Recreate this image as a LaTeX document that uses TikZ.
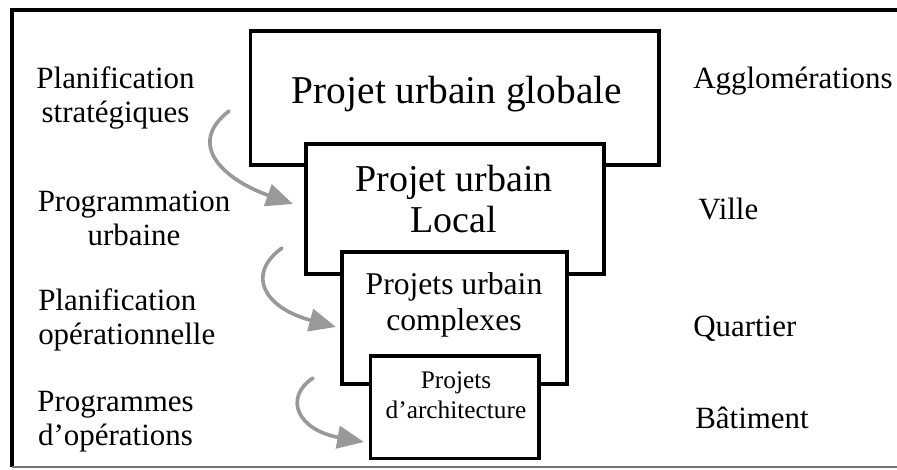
\documentclass[tikz,border=0pt]{standalone}
\usepackage{fontspec}
\setmainfont{Liberation Serif}
\usetikzlibrary{arrows.meta}
\tikzset{box/.style={draw, fill=white, line width=2.8pt, inner sep=0pt}}
\tikzset{boxtext/.style={inner sep=0pt, align=center, anchor=base}}
\tikzset{lbl/.style={font=\fontsize{22pt}{23.8pt}\selectfont, inner sep=0pt}}
\tikzset{flow/.style={black!40, line width=2.6pt, line cap=round, -{Triangle[length=19pt,width=16pt]}}}

\begin{document}
\begin{tikzpicture}[x=0.025cm, y=-0.025cm]
    \useasboundingbox (0,0) rectangle (897,469);
    %Frame
    \draw[line width=2.8pt] (12,467) -- (12,10) -- (897,10);
    \draw[black!55, line width=1.4pt] (12,467) -- (897,467);
    %Boxes
    \node[box, minimum width=10.21cm, minimum height=3.35cm] (glob) at (454.75,98) {};
    \node[boxtext, font=\fontsize{28pt}{30pt}\selectfont] (tglob) at (457,103) {Projet urbain globale};
    \node[box, minimum width=7.45cm, minimum height=3.25cm] (loc) at (455,209) {};
    \node[boxtext, font=\fontsize{27pt}{28.5pt}\selectfont] (tloc) at (454,232) {Projet urbain\\Local};
    \node[box, minimum width=5.625cm, minimum height=3.3cm] (cplx) at (454.5,318) {};
    \node[boxtext, font=\fontsize{22.5pt}{25pt}\selectfont] (tcplx) at (454,330) {Projets urbain\\complexes};
    \node[box, minimum width=4.21cm, minimum height=2.5625cm] (arch) at (454.75,407.25) {};
    \node[boxtext, font=\fontsize{18pt}{21.3pt}\selectfont] (tarch) at (456,418) {Projets\\d’architecture};
    %Left labels
    \node[lbl, align=center, anchor=base] (strat) at (115.5,122) {Planification\\stratégiques};
    \node[lbl, align=center, anchor=base] (progu) at (134,245) {Programmation\\urbaine};
    \node[lbl, align=left, anchor=base west] (plop) at (38,344) {Planification\\opérationnelle};
    \node[lbl, align=center, anchor=base] (progo) at (115.5,445) {Programmes\\d’opérations};
    %Right labels
    \node[lbl, anchor=base west] (aggl) at (693,88) {Agglomérations};
    \node[lbl, anchor=base west] (ville) at (698,219) {Ville};
    \node[lbl, anchor=base west] (quart) at (693,336) {Quartier};
    \node[lbl, anchor=base west] (bat) at (695,428) {Bâtiment};
    %Arrows
    \coordinate (s1) at (229,111);
    \coordinate (e1) at (293,204);
    \coordinate (s2) at (282,248);
    \coordinate (e2) at (336,327);
    \coordinate (s3) at (313,378);
    \coordinate (e3) at (364,442);
    \draw[flow] (s1) .. controls (185,145) and (225,180) .. (e1);
    \draw[flow] (s2) .. controls (245,275) and (265,308) .. (e2);
    \draw[flow] (s3) .. controls (283,398) and (298,430) .. (e3);
\end{tikzpicture}
\end{document}
